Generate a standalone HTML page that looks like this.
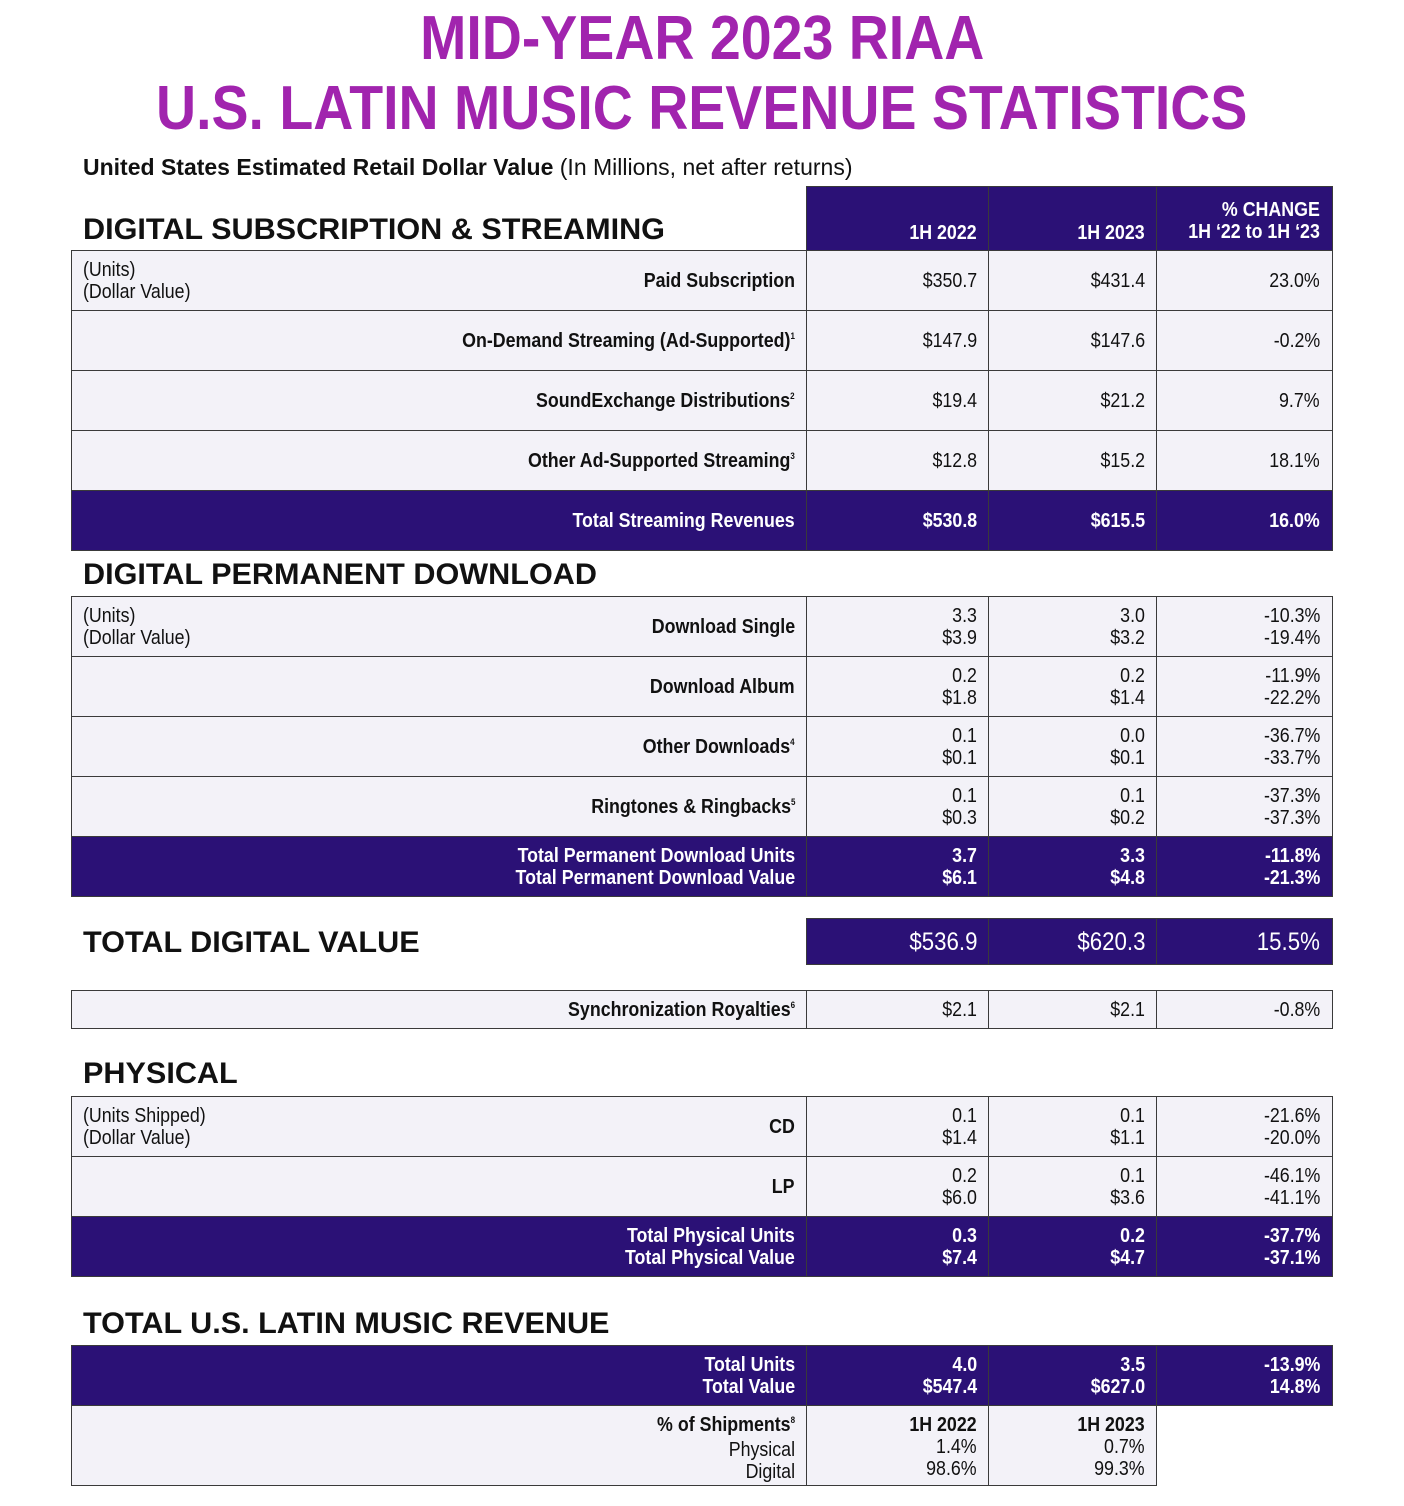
<!DOCTYPE html>
<html><head><meta charset="utf-8"><style>
body{margin:0;background:#fff;width:1404px;height:1506px;position:relative;overflow:hidden;font-family:"Liberation Sans",sans-serif;}
.c{position:absolute;box-sizing:border-box;border:1px solid #3a3a3a;}
.t{position:absolute;white-space:nowrap;font-size:20px;line-height:22px;color:#111;transform:scaleX(0.89);}
.r{transform-origin:right center;text-align:right}
.l{transform-origin:left center}
.h{position:absolute;white-space:nowrap;font-weight:bold;font-size:30px;color:#111;transform-origin:left center;transform:scaleX(1.02);line-height:34px}
.ti{position:absolute;left:0;width:1404px;text-align:center;color:#a124ae;font-weight:bold;font-size:62px;line-height:66px;white-space:nowrap}
.ti span{display:inline-block;transform:scaleX(0.895)}
.s{font-size:9px;position:relative;top:-8px}
</style></head><body>
<div class="ti" style="top:6px"><span>MID-YEAR 2023 RIAA</span></div>
<div class="ti" style="top:76px"><span>U.S. LATIN MUSIC REVENUE STATISTICS</span></div>
<div class="t l" style="left:83px;top:155px;font-size:23px;line-height:24px;transform:scaleX(1.0)"><b>United States Estimated Retail Dollar Value</b> (In Millions, net after returns)</div>
<div id="root"></div>
<script>
const X=[71,806,988,1156,1332];const D='#2b1176',L='#f3f2f8';
let h='';
function cell(x1,x2,y1,y2,bg){h+=`<div class="c" style="left:${x1}px;top:${y1}px;width:${x2-x1+1}px;height:${y2-y1+1}px;background:${bg}"></div>`;}
function txt(right,cy,lines,opt={}){const n=lines.length;const lh=22;const top=cy-n*lh/2+1;
 h+=`<div class="t r" style="right:${1404-right}px;top:${top}px;${opt.s||''}">${lines.join('<br>')}</div>`;}
function head(x,cy,s){h+=`<div class="h" style="left:${x}px;top:${cy-17}px">${s}</div>`;}
function row(y1,y2,dark,lab,a,b,c,left){
 const bg=dark?D:L;for(let i=0;i<4;i++)cell(X[i],X[i+1],y1,y2,bg);
 const cy=(y1+y2)/2;const st=dark?'color:#fff;font-weight:bold':'';
 txt(795,cy,lab,{s:'font-weight:bold;'+(dark?'color:#fff':'')});
 txt(977,cy,a,{s:st});txt(1145,cy,b,{s:st});txt(1320,cy,c,{s:st});
 if(left)h+=`<div class="t l" style="left:83px;top:${y1+9}px">(${left})<br>(Dollar Value)</div>`;}
const S=n=>`<span class="s">${n}</span>`;
head(83,230,'DIGITAL SUBSCRIPTION &amp; STREAMING');
for(let i=1;i<4;i++)cell(X[i],X[i+1],186,250,D);
const hs='color:#fff;font-weight:bold';
txt(977,232,['1H 2022'],{s:hs});txt(1145,232,['1H 2023'],{s:hs});txt(1320,220,['% CHANGE',"1H ‘22 to 1H ‘23"],{s:hs});
row(250,310,0,['Paid Subscription'],['$350.7'],['$431.4'],['23.0%'],'Units');
row(310,370,0,['On-Demand Streaming (Ad-Supported)'+S(1)],['$147.9'],['$147.6'],['-0.2%']);
row(370,430,0,['SoundExchange Distributions'+S(2)],['$19.4'],['$21.2'],['9.7%']);
row(430,490,0,['Other Ad-Supported Streaming'+S(3)],['$12.8'],['$15.2'],['18.1%']);
row(490,550,1,['Total Streaming Revenues'],['$530.8'],['$615.5'],['16.0%']);
head(83,575,'DIGITAL PERMANENT DOWNLOAD');
row(596,656,0,['Download Single'],['3.3','$3.9'],['3.0','$3.2'],['-10.3%','-19.4%'],'Units');
row(656,716,0,['Download Album'],['0.2','$1.8'],['0.2','$1.4'],['-11.9%','-22.2%']);
row(716,776,0,['Other Downloads'+S(4)],['0.1','$0.1'],['0.0','$0.1'],['-36.7%','-33.7%']);
row(776,836,0,['Ringtones &amp; Ringbacks'+S(5)],['0.1','$0.3'],['0.1','$0.2'],['-37.3%','-37.3%']);
row(836,896,1,['Total Permanent Download Units','Total Permanent Download Value'],['3.7','$6.1'],['3.3','$4.8'],['-11.8%','-21.3%']);
head(83,943,'TOTAL DIGITAL VALUE');
for(let i=1;i<4;i++)cell(X[i],X[i+1],918,964,D);
const bs='color:#fff;font-size:25px';
txt(977,941,['$536.9'],{s:bs});txt(1145,941,['$620.3'],{s:bs});txt(1320,941,['15.5%'],{s:bs});
row(990,1028,0,['Synchronization Royalties'+S(6)],['$2.1'],['$2.1'],['-0.8%']);
head(83,1074,'PHYSICAL');
row(1096,1156,0,['CD'],['0.1','$1.4'],['0.1','$1.1'],['-21.6%','-20.0%'],'Units Shipped');
row(1156,1216,0,['LP'],['0.2','$6.0'],['0.1','$3.6'],['-46.1%','-41.1%']);
row(1216,1276,1,['Total Physical Units','Total Physical Value'],['0.3','$7.4'],['0.2','$4.7'],['-37.7%','-37.1%']);
head(83,1324,'TOTAL U.S. LATIN MUSIC REVENUE');
row(1345,1405,1,['Total Units','Total Value'],['4.0','$547.4'],['3.5','$627.0'],['-13.9%','14.8%']);
for(let i=0;i<3;i++)cell(X[i],X[i+1],1405,1485,L);
txt(795,1446,['<b>% of Shipments'+S(8)+'</b>','Physical','Digital']);
txt(977,1446,['<b>1H 2022</b>','1.4%','98.6%']);
txt(1145,1446,['<b>1H 2023</b>','0.7%','99.3%']);
document.getElementById('root').innerHTML=h;
</script>
</body></html>
